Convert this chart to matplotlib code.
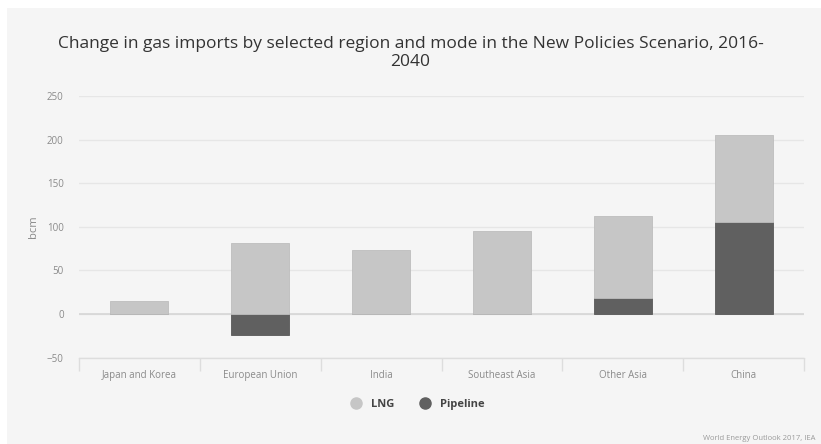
import matplotlib.pyplot as plt
from matplotlib.lines import Line2D
from matplotlib.patches import Rectangle
import numpy as np

plt.rcParams['font.family'] = ['Open Sans', 'DejaVu Sans']

regions = ['Japan and Korea', 'European Union', 'India', 'Southeast Asia', 'Other Asia', 'China']
lng = [15, 82, 73, 95, 94, 99]
pipeline = [0, -24, 0, 0, 19, 106]
yticks = [-50, 0, 50, 100, 150, 200, 250]

lng_col = '#c6c6c6'
pipe_col = '#606060'

fig = plt.figure(figsize=(8.21, 4.44), dpi=100, facecolor='white')
fig.patches.append(Rectangle((7 / 821, 0), 1, 1 - 8 / 444, transform=fig.transFigure,
                             facecolor='#f5f5f5', edgecolor='none', zorder=-10))

ax = fig.add_axes([79 / 821, (444 - 357.7) / 444, (804 - 79) / 821, (357.7 - 96) / 444])
ax.set_facecolor('none')

x = np.arange(len(regions))
w = 0.48
pipe = np.array(pipeline)
lng_bottom = np.maximum(pipe, 0)
ax.bar(x, pipe, w, color=pipe_col, edgecolor='#585858', linewidth=0.6, zorder=3)
ax.bar(x, lng, w, bottom=lng_bottom, color=lng_col, edgecolor='#bdbdbd', linewidth=0.6, zorder=3)

ax.set_xlim(-0.5, len(regions) - 0.5)
ax.set_ylim(-50, 250)
ax.set_yticks(yticks)
ax.yaxis.grid(True, color='#e6e6e6', linewidth=1.0, zorder=0)
ax.axhline(0, color='#d6d6d6', linewidth=1.2, zorder=2)

for s in ['top', 'right', 'left']:
    ax.spines[s].set_visible(False)
ax.spines['bottom'].set_color('#dddddd')
ax.spines['bottom'].set_linewidth(1.0)

ax.tick_params(axis='y', length=0, pad=11, labelsize=7, labelcolor='#8a8a8a')
ax.set_xticks(x)
ax.set_xticklabels(regions)
ax.tick_params(axis='x', which='major', length=0, pad=9, labelsize=7, labelcolor='#8a8a8a')
ax.set_xticks(np.arange(-0.5, len(regions)), minor=True)
ax.tick_params(axis='x', which='minor', length=9, width=1.0, color='#dddddd')

ax.set_ylabel('bcm', fontsize=8, color='#8a8a8a', labelpad=6)

fig.text(0.5, 1 - 44 / 444, 'Change in gas imports by selected region and mode in the New Policies Scenario, 2016-',
         ha='center', va='center', fontsize=12.5, color='#333333')
fig.text(0.5, 1 - 62 / 444, '2040', ha='center', va='center', fontsize=12.5, color='#333333')

handles = [Line2D([], [], marker='o', linestyle='none', markersize=8, color=lng_col, label='LNG'),
           Line2D([], [], marker='o', linestyle='none', markersize=8, color=pipe_col, label='Pipeline')]
leg = fig.legend(handles=handles, loc='center', bbox_to_anchor=(0.505, (444 - 404) / 444), ncol=2,
                 frameon=False, handletextpad=0.3, columnspacing=1.8, prop={'weight': 'bold', 'size': 8})
for t in leg.get_texts():
    t.set_color('#444444')

fig.text(815 / 821, 1 - 438 / 444, 'World Energy Outlook 2017, IEA', ha='right', va='center',
         fontsize=5.5, color='#9a9a9a')

fig.savefig('out.png', dpi=100, facecolor='white')
